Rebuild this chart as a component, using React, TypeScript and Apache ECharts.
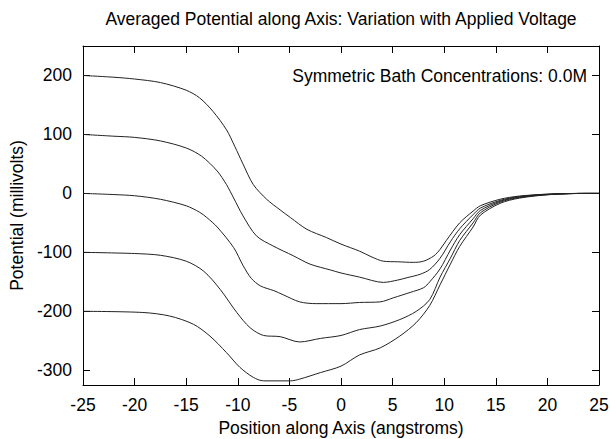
import React, { useEffect, useRef } from "react";
import * as echarts from "echarts";

const title = "Averaged Potential along Axis: Variation with Applied Voltage";
const annotation = "Symmetric Bath Concentrations: 0.0M";
const xAxisName = "Position along Axis (angstroms)";
const yAxisName = "Potential (millivolts)";
const yTicks = [-300, -200, -100, 0, 100, 200];

const curve200: [number, number][] = [
  [-25, 200], [-22, 197], [-20, 194], [-17.5, 188], [-15, 175], [-13.7, 162], [-12.4, 139],
  [-11.1, 108], [-10.3, 80], [-9.5, 50], [-8.5, 15], [-7.2, -10], [-5.9, -28], [-4.9, -41],
  [-3.3, -61], [-1.4, -75], [0, -86], [1.8, -98], [3, -108], [4.1, -115], [5.5, -116],
  [7, -117], [8, -115], [9, -106], [9.6, -95], [10.2, -80], [11.5, -50], [12.8, -30],
  [13.5, -21], [15.4, -10], [17.3, -4.5], [20.3, -1], [23.8, 0], [25, 0],
];
const curve100: [number, number][] = [
  [-25, 100], [-22, 97], [-20, 95], [-17.5, 89], [-15, 77], [-13.5, 63], [-12, 38],
  [-11.1, 15], [-10.4, -8], [-9.5, -38], [-8.2, -72], [-6.6, -89], [-4.6, -106], [-3, -120],
  [-1, -130], [0, -135], [1.8, -142], [4.1, -151], [5.5, -147], [6.4, -143], [7.7, -137],
  [8.6, -129], [9.6, -110], [10.6, -82], [11.5, -60], [12.8, -36], [13.5, -25], [15.4, -12],
  [17.3, -5.3], [20.3, -1.2], [23.8, 0], [25, 0],
];
const curve0: [number, number][] = [
  [-25, 0], [-22, -2], [-20, -4], [-17.5, -10], [-15, -21], [-13.7, -32], [-13, -41],
  [-12, -57], [-10.4, -92], [-9.5, -122], [-8.7, -144], [-7.8, -157], [-6.5, -165],
  [-5.6, -172], [-4, -184], [-2.4, -187], [0, -187], [1.8, -185], [3.8, -184], [5.1, -177],
  [6.7, -168], [8, -160], [8.6, -150], [9.6, -128], [10.6, -96], [11.5, -70], [12.8, -43],
  [13.5, -29], [15.4, -13.5], [17.3, -6], [20.3, -1.5], [23.8, 0], [25, 0],
];
const curveM100: [number, number][] = [
  [-25, -100], [-20, -102], [-17.5, -105], [-15, -115], [-13.3, -132], [-11.7, -163],
  [-10.1, -202], [-8.8, -228], [-7.5, -241], [-5.9, -243], [-4, -252], [-2, -246], [0, -241],
  [1.8, -231], [3.8, -225], [5.7, -214], [7.3, -200], [8.6, -180], [9.6, -142], [10.6, -110],
  [11.5, -80], [12.8, -50], [13.5, -33], [15.4, -15], [17.3, -7], [20.3, -1.8], [23.8, 0], [25, 0],
];
const curveM200: [number, number][] = [
  [-25, -200], [-19.2, -202], [-16.6, -208], [-14.3, -222], [-12.7, -242], [-11.1, -270],
  [-9.8, -295], [-8.5, -312], [-7.5, -318], [-4.9, -318], [-4, -315], [-2, -304], [0, -293],
  [1.8, -274], [3.8, -262], [5.7, -242], [7.3, -219], [8.6, -190], [9.6, -155], [10.6, -120],
  [11.5, -90], [12.8, -57], [13.5, -37], [15.4, -17], [17.3, -8], [20.3, -2], [23.8, 0], [25, 0],
];

const curves = [curve200, curve100, curve0, curveM100, curveM200];

const FONT = "Liberation Sans, Arial, Helvetica, sans-serif";
const FS = 17.5;

export default function App() {
  const ref = useRef<HTMLDivElement>(null);
  useEffect(() => {
    if (!ref.current) return;
    const chart = echarts.init(ref.current, undefined, { renderer: "svg" });
    const axisLine = { show: true, onZero: false, lineStyle: { color: "#000", width: 1 } };
    const tick = { show: true, inside: true, length: 7, lineStyle: { color: "#000", width: 1 } };
    chart.setOption({
      animation: false,
      backgroundColor: "#fff",
      textStyle: { fontFamily: FONT },
      grid: {
        left: 83,
        right: 11,
        top: 46,
        bottom: 54,
        containLabel: false,
        outerBoundsMode: "none",
      },
      xAxis: [
        {
          type: "value",
          min: -25,
          max: 25,
          interval: 5,
          position: "bottom",
          name: xAxisName,
          nameLocation: "middle",
          nameGap: 32,
          nameTextStyle: { fontFamily: FONT, fontSize: FS, color: "#000" },
          axisLine,
          axisTick: tick,
          axisLabel: { fontFamily: FONT, fontSize: FS, color: "#000", margin: 11 },
          splitLine: { show: false },
        },
        {
          type: "value",
          min: -25,
          max: 25,
          interval: 5,
          position: "top",
          axisLine,
          axisTick: tick,
          axisLabel: { show: false },
          splitLine: { show: false },
        },
      ],
      yAxis: [
        {
          type: "value",
          min: -325,
          max: 250,
          position: "left",
          name: yAxisName,
          nameLocation: "middle",
          nameGap: 56,
          nameTextStyle: { fontFamily: FONT, fontSize: FS, color: "#000" },
          axisLine,
          axisTick: { ...tick, customValues: yTicks },
          axisLabel: { fontFamily: FONT, fontSize: FS, color: "#000", margin: 11, customValues: yTicks },
          splitLine: { show: false },
        },
        {
          type: "value",
          min: -325,
          max: 250,
          position: "right",
          axisLine,
          axisTick: { ...tick, customValues: yTicks },
          axisLabel: { show: false, customValues: yTicks },
          splitLine: { show: false },
        },
      ],
      graphic: [
        {
          type: "text",
          x: 341,
          y: 19,
          style: {
            text: title,
            fontFamily: FONT,
            fontSize: FS,
            fill: "#000",
            align: "center",
            verticalAlign: "middle",
          },
        },
        {
          type: "text",
          x: 587,
          y: 76,
          style: {
            text: annotation,
            fontFamily: FONT,
            fontSize: FS,
            fill: "#000",
            align: "right",
            verticalAlign: "middle",
          },
        },
      ],
      series: curves.map((c) => ({
        type: "line",
        data: c,
        smooth: 0.3,
        showSymbol: false,
        symbol: "none",
        lineStyle: { color: "#222", width: 1 },
        xAxisIndex: 0,
        yAxisIndex: 0,
      })),
    });
    return () => chart.dispose();
  }, []);
  return <div ref={ref} style={{ width: 610, height: 439, position: "absolute", left: 0, top: 0 }} />;
}
